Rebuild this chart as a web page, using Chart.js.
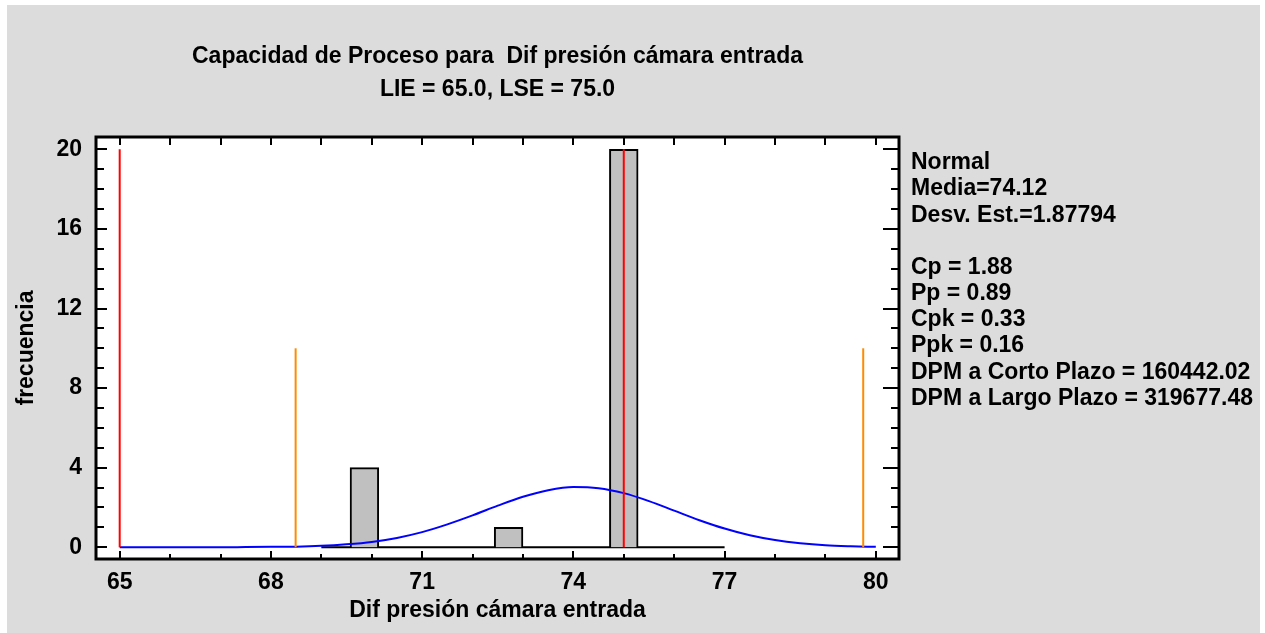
<!DOCTYPE html>
<html><head><meta charset="utf-8">
<script src="https://cdn.jsdelivr.net/npm/chart.js@4.4.1/dist/chart.umd.min.js"></script>
<style>
html,body{margin:0;padding:0;background:#ffffff;}
#wrap{position:absolute;left:7px;top:5px;width:1253px;height:628px;background:#DCDCDC;}
canvas{display:block;}
</style></head><body>
<div id="wrap"><canvas id="c" width="1253" height="628"></canvas></div>
<script>
// ---- data ----
const titleLines = ['Capacidad de Proceso para  Dif presión cámara entrada', 'LIE = 65.0, LSE = 75.0'];
const xAxisTitle = 'Dif presión cámara entrada';
const yAxisTitle = 'frecuencia';
const binEdges = [69, 69.57, 70.14, 70.71, 71.29, 71.86, 72.43, 73.0, 73.57, 74.14, 74.71, 75.29, 75.86, 76.43, 77];
const binCounts = [0, 4, 0, 0, 0, 0, 1, 0, 0, 0, 20, 0, 0, 0];
const curveX = [65, 65.5, 66, 66.5, 67, 67.5, 68, 68.5, 69, 69.5, 70, 70.5, 71, 71.5, 72, 72.5, 73, 73.5, 74, 74.5, 75, 75.5, 76, 76.5, 77, 77.5, 78, 78.5, 79, 79.5, 80];
const curveY = [0, 0, 0, 0, 0, 0.01, 0.02, 0.03, 0.07, 0.15, 0.27, 0.47, 0.76, 1.15, 1.6, 2.09, 2.54, 2.87, 3.03, 2.97, 2.72, 2.32, 1.84, 1.36, 0.94, 0.6, 0.36, 0.2, 0.1, 0.05, 0.02];
const specLimits = [65, 75];      // LIE, LSE
const specHeight = 20;
const sigmaLimits = [68.49, 79.75]; // media -/+ 3 sigma
const sigmaHeight = 10;
const xTicks = [65, 68, 71, 74, 77, 80];
const yTicks = [0, 4, 8, 12, 16, 20];
const statsLines = ['Normal', 'Media=74.12', 'Desv. Est.=1.87794', '', 'Cp = 1.88', 'Pp = 0.89', 'Cpk = 0.33', 'Ppk = 0.16', 'DPM a Corto Plazo = 160442.02', 'DPM a Largo Plazo = 319677.48'];

// ---- build ----
const FAM = '"Liberation Sans", Arial, Helvetica, sans-serif';
const font = {family: FAM, size: 23, weight: 'bold', lineHeight: 1.2};
const binCenters = binCounts.map((c, i) => (binEdges[i] + binEdges[i + 1]) / 2);
const vline = (xv, h) => [{x: xv, y: 0}, {x: xv, y: h}];

const framePlugin = {
  id: 'frame',
  beforeDraw(chart) {
    const {ctx, chartArea: a} = chart;
    ctx.save();
    ctx.fillStyle = '#ffffff';
    ctx.fillRect(a.left, a.top, a.right - a.left, a.bottom - a.top);
    ctx.restore();
  },
  afterDraw(chart) {
    const {ctx, chartArea: a, scales: {x, y}} = chart;
    ctx.save();
    ctx.strokeStyle = '#000';
    ctx.lineWidth = 2;
    ctx.beginPath();
    for (let v = xTicks[0]; v <= xTicks[xTicks.length - 1]; v++) {
      const px = Math.round(x.getPixelForValue(v));
      const major = xTicks.includes(v);
      ctx.moveTo(px, a.bottom); ctx.lineTo(px, a.bottom - (major ? 8 : 5));
      ctx.moveTo(px, a.top); ctx.lineTo(px, a.top + 8);
    }
    for (let v = yTicks[0]; v <= yTicks[yTicks.length - 1]; v++) {
      const py = Math.round(y.getPixelForValue(v));
      const major = yTicks.includes(v);
      ctx.moveTo(a.left, py); ctx.lineTo(a.left + (major ? 11 : 8), py);
      ctx.moveTo(a.right, py); ctx.lineTo(a.right - (major ? 16 : 8), py);
    }
    ctx.stroke();
    ctx.lineWidth = 3;
    ctx.strokeRect(a.left, a.top, a.right - a.left, a.bottom - a.top);
    // stats block
    ctx.fillStyle = '#000';
    ctx.font = 'bold 23px ' + FAM;
    ctx.textAlign = 'left';
    ctx.textBaseline = 'middle';
    statsLines.forEach((t, i) => {
      if (t) ctx.fillText(t, a.right + 12, a.top + 26 + i * 26.15);
    });
    ctx.restore();
  }
};

new Chart(document.getElementById('c'), {
  type: 'bar',
  data: {
    datasets: [
      {type: 'line', label: 'LIE', data: vline(specLimits[0], specHeight), borderColor: '#FF0000', borderWidth: 2, pointRadius: 0, order: 1},
      {type: 'line', label: 'LSE', data: vline(specLimits[1], specHeight), borderColor: '#FF0000', borderWidth: 2, pointRadius: 0, order: 1},
      {type: 'line', label: '-3s', data: vline(sigmaLimits[0], sigmaHeight), borderColor: '#FF8C00', borderWidth: 2, pointRadius: 0, order: 2},
      {type: 'line', label: '+3s', data: vline(sigmaLimits[1], sigmaHeight), borderColor: '#FF8C00', borderWidth: 2, pointRadius: 0, order: 2},
      {type: 'line', label: 'Normal', data: curveX.map((v, i) => ({x: v, y: curveY[i]})), borderColor: '#0000FF', borderWidth: 2, pointRadius: 0, cubicInterpolationMode: 'monotone', order: 3},
      {type: 'bar', label: 'frecuencia', data: binCenters.map((v, i) => ({x: v, y: binCounts[i]})), backgroundColor: '#C0C0C0', borderColor: '#000', borderWidth: 2, barPercentage: 1, categoryPercentage: 1, order: 5},
      {type: 'line', label: 'base', data: [{x: binEdges[0], y: 0}, {x: binEdges[binEdges.length - 1], y: 0}], borderColor: '#000', borderWidth: 2, pointRadius: 0, order: 6}
    ]
  },
  options: {
    responsive: false,
    animation: false,
    devicePixelRatio: 1,
    layout: {padding: {left: 0, right: 361, top: 0, bottom: 0}},
    plugins: {
      legend: {display: false},
      tooltip: {enabled: false},
      title: {display: true, text: titleLines, color: '#000', fullSize: false,
        font: {family: FAM, size: 23, weight: 'bold', lineHeight: '33px'},
        padding: {top: 35, bottom: 31}}
    },
    scales: {
      x: {
        type: 'linear', min: 64.53, max: 80.46, offset: false,
        grid: {display: false, drawTicks: false}, border: {display: false},
        afterBuildTicks: s => { s.ticks = xTicks.map(v => ({value: v})); },
        afterFit: s => { s.height = 74; },
        ticks: {color: '#000', font, padding: 10, maxRotation: 0, autoSkip: false},
        title: {display: true, text: xAxisTitle, color: '#000', font, padding: {top: 0, bottom: 9}}
      },
      y: {
        type: 'linear', min: -0.59, max: 20.62,
        grid: {display: false, drawTicks: false}, border: {display: false},
        afterBuildTicks: s => { s.ticks = yTicks.map(v => ({value: v})); },
        afterFit: s => { s.width = 89; },
        ticks: {color: '#000', font, padding: 14, autoSkip: false},
        title: {display: true, text: yAxisTitle, color: '#000', font, padding: {top: 6, bottom: 0}}
      }
    }
  },
  plugins: [framePlugin]
});
</script>
</body></html>
